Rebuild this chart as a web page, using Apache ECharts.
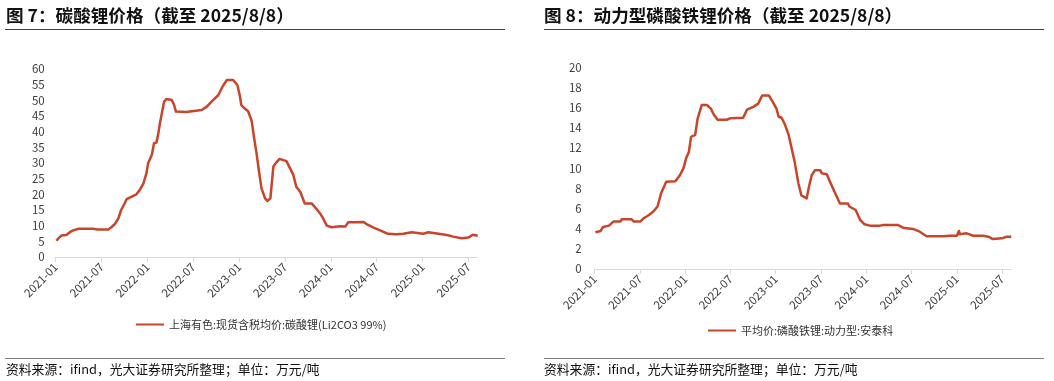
<!DOCTYPE html>
<html><head><meta charset="utf-8">
<script src="https://cdn.jsdelivr.net/npm/echarts@6/dist/echarts.min.js"></script>
<style>
html,body{margin:0;padding:0;background:#fff;}
#wrap{position:relative;width:1054px;height:381px;overflow:hidden;font-family:"Noto Sans CJK SC","Noto Sans",sans-serif;}
#chart{position:absolute;left:0;top:0;width:1054px;height:381px;}
.title{position:absolute;top:3px;font-size:17.6px;font-weight:bold;color:#111;white-space:nowrap;line-height:24px;}
.rule{position:absolute;height:0;border-top:1.5px solid #404040;}
.frule{position:absolute;height:0;border-top:1px solid #7f7f7f;}
.foot{position:absolute;top:359px;font-size:12.8px;color:#111;white-space:nowrap;line-height:19px;}
</style></head>
<body><div id="wrap">
<div id="chart"></div>
<div class="title" style="left:6px">图 7：碳酸锂价格（截至 2025/8/8）</div>
<div class="title" style="left:544px">图 8：动力型磷酸铁锂价格（截至 2025/8/8）</div>
<div class="rule" style="left:5px;width:500px;top:28.5px"></div>
<div class="rule" style="left:544px;width:500px;top:28.5px"></div>
<div class="frule" style="left:5px;width:500px;top:358px"></div>
<div class="frule" style="left:544px;width:500px;top:358px"></div>
<div class="foot" style="left:6px">资料来源：ifind，光大证券研究所整理；单位：万元/吨</div>
<div class="foot" style="left:544px">资料来源：ifind，光大证券研究所整理；单位：万元/吨</div>
</div>
<script>
// ---- Data ----
const liName = '上海有色:现货含税均价:碳酸锂(Li2CO3 99%)';
const liDates = ['2021-01-04','2021-01-13','2021-01-25','2021-02-12','2021-02-26','2021-03-10','2021-04-01','2021-05-28','2021-06-15','2021-07-28','2021-08-10','2021-08-25','2021-09-07','2021-09-18','2021-10-01','2021-10-10','2021-10-30','2021-11-18','2021-12-01','2021-12-16','2021-12-28','2022-01-04','2022-01-19','2022-01-28','2022-02-06','2022-02-12','2022-02-19','2022-02-26','2022-03-07','2022-03-16','2022-04-07','2022-04-16','2022-04-23','2022-06-04','2022-06-11','2022-08-04','2022-08-25','2022-09-13','2022-10-10','2022-10-27','2022-11-13','2022-12-08','2022-12-25','2023-01-04','2023-01-10','2023-01-25','2023-02-06','2023-02-19','2023-03-01','2023-03-10','2023-03-20','2023-03-30','2023-04-13','2023-04-22','2023-05-04','2023-05-16','2023-05-25','2023-06-10','2023-07-07','2023-07-22','2023-08-04','2023-08-16','2023-09-01','2023-09-19','2023-10-16','2023-10-28','2023-11-19','2023-12-01','2023-12-16','2024-01-04','2024-02-07','2024-02-27','2024-03-10','2024-03-28','2024-05-10','2024-05-22','2024-06-19','2024-07-13','2024-08-16','2024-09-19','2024-10-16','2024-11-19','2025-01-04','2025-01-25','2025-04-07','2025-05-01','2025-06-04','2025-07-01','2025-07-19','2025-08-08'];
const liValues = [5.2,6.0,6.9,7.0,8.0,8.5,9.0,9.0,8.8,8.8,9.5,10.6,12.3,15.0,17.0,18.5,19.3,20.0,21.4,23.5,26.7,29.9,32.6,36.3,36.5,38.9,42.7,45.9,49.6,50.4,50.1,48.5,46.4,46.3,46.7,46.9,48.0,49.6,51.7,54.4,56.5,56.5,54.9,51.5,48.5,47.3,46.5,43.5,37.5,33.0,27.2,21.9,18.7,17.9,18.7,28.8,29.9,31.3,30.6,28.3,26.2,22.4,20.8,17.1,17.1,16.1,13.9,12.3,10.0,9.5,9.8,9.7,11.1,11.1,11.2,10.5,9.4,8.6,7.4,7.3,7.4,7.9,7.4,7.9,7.0,6.5,6.0,6.2,7.1,6.8];

const lfpName = '平均价:磷酸铁锂:动力型:安泰科';
const lfpDates = ['2021-01-04','2021-01-25','2021-02-04','2021-02-26','2021-03-16','2021-04-13','2021-04-19','2021-05-29','2021-06-07','2021-07-02','2021-07-16','2021-08-07','2021-08-25','2021-09-11','2021-09-25','2021-10-01','2021-10-16','2021-11-22','2021-12-10','2021-12-25','2022-01-05','2022-01-16','2022-01-25','2022-02-10','2022-02-19','2022-03-07','2022-03-28','2022-04-13','2022-04-25','2022-05-10','2022-06-16','2022-06-30','2022-08-22','2022-09-07','2022-10-04','2022-10-22','2022-11-07','2022-12-04','2022-12-19','2023-01-04','2023-01-13','2023-01-25','2023-02-06','2023-02-21','2023-03-04','2023-03-17','2023-04-01','2023-04-13','2023-05-04','2023-05-14','2023-05-25','2023-06-07','2023-06-28','2023-07-04','2023-07-25','2023-08-07','2023-08-19','2023-09-10','2023-09-16','2023-10-19','2023-10-25','2023-11-19','2023-12-07','2023-12-25','2024-01-16','2024-02-25','2024-03-10','2024-05-08','2024-05-28','2024-07-07','2024-08-04','2024-09-01','2024-11-07','2024-11-13','2024-12-04','2025-01-01','2025-01-10','2025-01-13','2025-02-10','2025-03-07','2025-04-16','2025-05-07','2025-05-25','2025-07-01','2025-07-19','2025-08-08'];
const lfpValues = [3.64,3.77,4.16,4.3,4.7,4.7,4.93,4.93,4.7,4.7,5.03,5.35,5.7,6.2,7.5,7.6,8.66,8.7,9.3,10.0,11.0,11.6,13.1,13.3,14.9,16.26,16.26,15.9,15.3,14.8,14.8,14.94,15.0,15.8,16.1,16.4,17.2,17.2,16.6,15.9,15.1,15.0,14.4,13.3,12.0,10.6,8.5,7.3,7.0,8.2,9.3,9.8,9.8,9.5,9.4,8.66,8.0,6.84,6.5,6.5,6.2,5.85,4.86,4.43,4.3,4.3,4.36,4.36,4.1,3.97,3.7,3.25,3.25,3.44,3.3,3.3,3.77,3.44,3.54,3.3,3.3,3.2,2.97,3.04,3.2,3.2];

const xTickMonths = [0,6,12,18,24,30,36,42,48,54]; // 2021-01 ... 2025-07
const liYTicks = {min:0, max:60, interval:5};
const lfpYTicks = {min:0, max:20, interval:2};

// ---- helpers ----
function monthIndex(s){
  const [y,m,d] = s.split('-').map(Number);
  const dim = new Date(y, m, 0).getDate();
  return (y-2021)*12 + (m-1) + (d-1)/dim;
}
function monthLabel(v){
  const y = 2021 + Math.floor(v/12);
  const m = Math.round(v - (y-2021)*12) + 1;
  return y + '-' + String(m).padStart(2,'0');
}
const liData = liDates.map((d,i)=>[monthIndex(d), liValues[i]]);
const lfpData = lfpDates.map((d,i)=>[monthIndex(d), lfpValues[i]]);

const FONT = '"Noto Sans CJK SC","Noto Sans",sans-serif';
const LINE_COLOR = '#C8452B';
const XMAX = 55.2;

function xAxis(gi){
  return {
    type:'value', gridIndex:gi, min:0, max:XMAX,
    axisLine:{show:true, lineStyle:{color:'#d9d9d9', width:1}},
    axisTick:{show:true, length:5, customValues:xTickMonths, lineStyle:{color:'#d9d9d9'}},
    splitLine:{show:false},
    axisLabel:{customValues:xTickMonths, rotate:45, margin:8, fontSize:11.5, color:'#404040', fontFamily:FONT, formatter:monthLabel}
  };
}
function yAxis(gi, t, margin){
  return {
    type:'value', gridIndex:gi, min:t.min, max:t.max, interval:t.interval,
    axisLine:{show:false}, axisTick:{show:false}, splitLine:{show:false},
    axisLabel:{fontSize:11.5, color:'#404040', fontFamily:FONT, margin:margin}
  };
}

const chart = echarts.init(document.getElementById('chart'), null, {renderer:'canvas'});
chart.setOption({
  animation:false,
  grid:[
    {left:55.7, top:69, width:55.2*7.641, height:188},
    {left:594.7, top:67.3, width:55.2*7.543, height:201.7}
  ],
  xAxis:[xAxis(0), xAxis(1)],
  yAxis:[yAxis(0, liYTicks, 11), yAxis(1, lfpYTicks, 13)],
  legend:[
    {data:[liName], left:131, top:314, icon:'rect', itemWidth:28, itemHeight:2, itemGap:5,
     textStyle:{fontSize:11, color:'#333', fontFamily:FONT}},
    {data:[lfpName], left:703, top:320, icon:'rect', itemWidth:28, itemHeight:2, itemGap:5,
     textStyle:{fontSize:11, color:'#333', fontFamily:FONT}}
  ],
  series:[
    {name:liName, type:'line', xAxisIndex:0, yAxisIndex:0, data:liData, showSymbol:false, symbol:'none',
     lineStyle:{color:LINE_COLOR, width:2.5, join:'round'}, itemStyle:{color:LINE_COLOR}},
    {name:lfpName, type:'line', xAxisIndex:1, yAxisIndex:1, data:lfpData, showSymbol:false, symbol:'none',
     lineStyle:{color:LINE_COLOR, width:2.5, join:'round'}, itemStyle:{color:LINE_COLOR}}
  ]
});
</script>
</body></html>
